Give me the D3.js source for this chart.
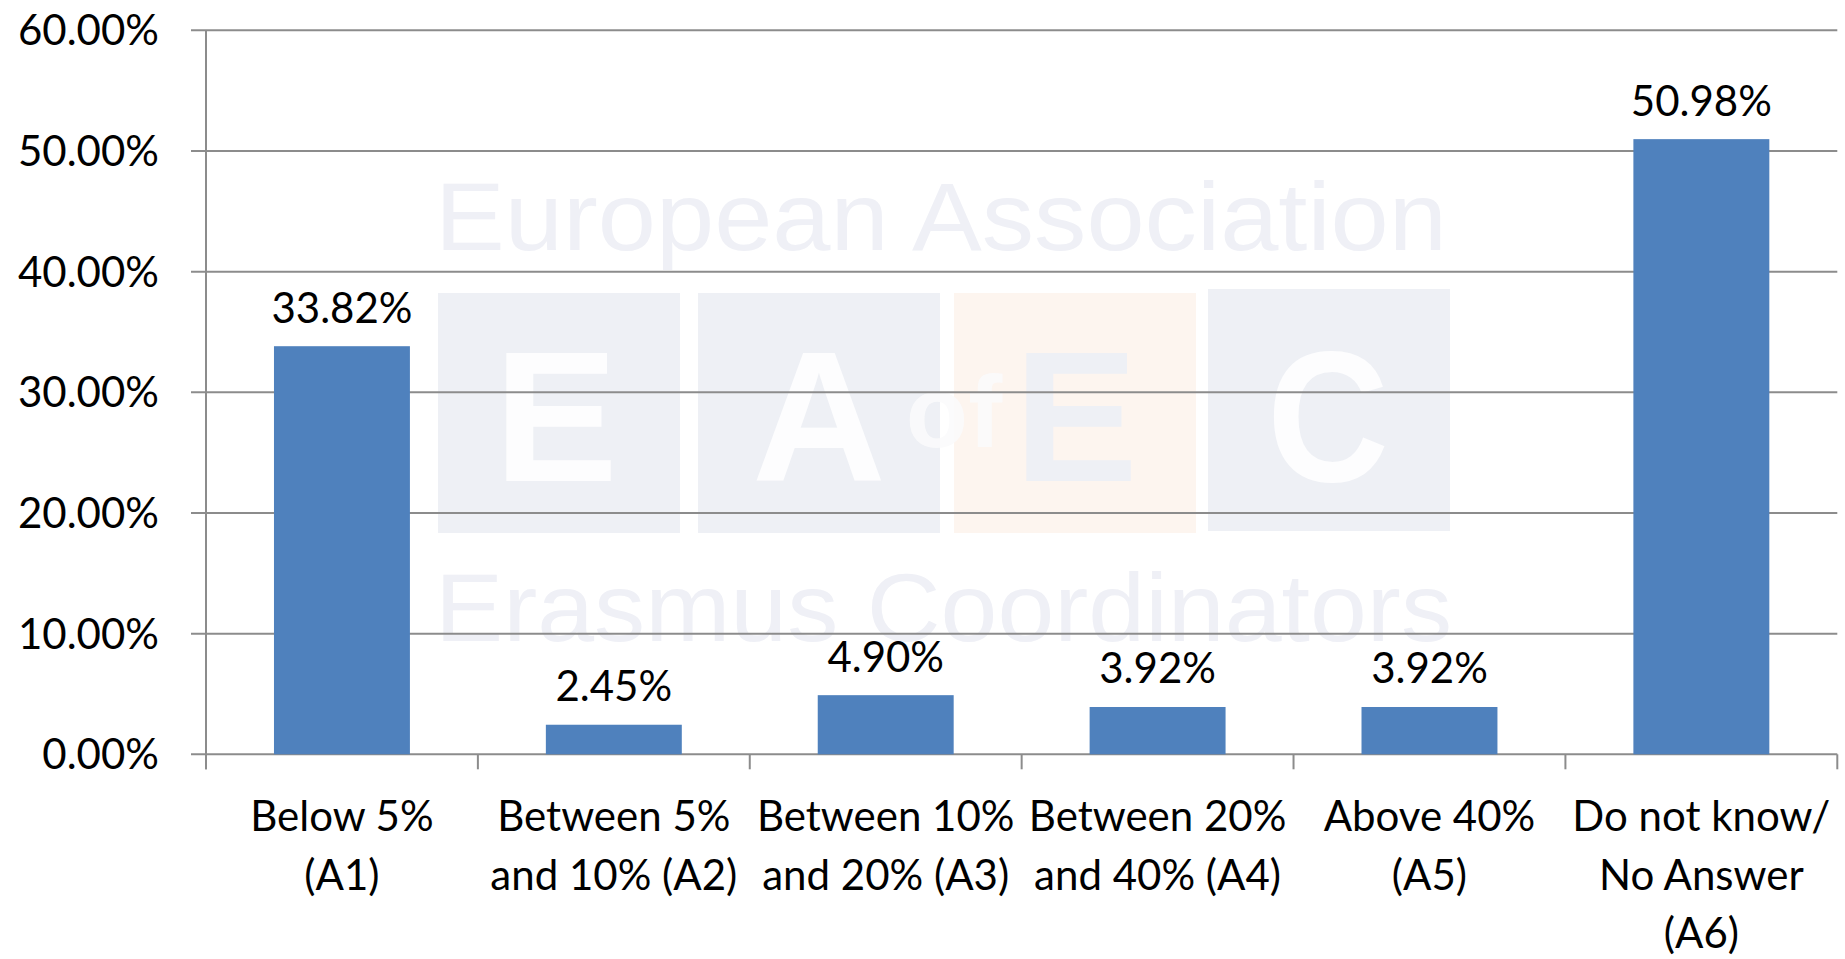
<!DOCTYPE html>
<html>
<head>
<meta charset="utf-8">
<script src="https://cdn.jsdelivr.net/npm/d3@7"></script>
<style>
  html, body { margin: 0; padding: 0; background: #ffffff; }
  svg { display: block; }
</style>
</head>
<body>
<svg id="chart" width="1845" height="959"></svg>
<script>
// ---- data ----
const categories = ["A1", "A2", "A3", "A4", "A5", "A6"];
const categoryLabels = [
  ["Below 5%", "(A1)"],
  ["Between 5%", "and 10% (A2)"],
  ["Between 10%", "and 20% (A3)"],
  ["Between 20%", "and 40% (A4)"],
  ["Above 40%", "(A5)"],
  ["Do not know/", "No Answer", "(A6)"]
];
const values = [33.82, 2.45, 4.90, 3.92, 3.92, 50.98];
const yTicks = [0, 10, 20, 30, 40, 50, 60];

// ---- layout ----
const plotLeft = 206, plotRight = 1837.3, plotTop = 30.3, plotBottom = 754.3;
const svg = d3.select("#chart");
const FONT = "Lato, 'Open Sans', sans-serif";
const FS = 42;

const y = d3.scaleLinear().domain([0, 60]).range([plotBottom, plotTop]);
const x = d3.scaleBand().domain(categories).range([plotLeft, plotRight]).paddingInner(0.5).paddingOuter(0.25);
const xb = d3.scaleBand().domain(categories).range([plotLeft, plotRight]).padding(0);

// ---- watermark ----
const wm = svg.append("g").attr("class", "watermark");
const boxBlue = "#eef0f5", boxPeach = "#fdf5ef";
const boxes = [
  {x: 438, y: 293, w: 242, h: 240, c: boxBlue},
  {x: 698, y: 293, w: 242, h: 240, c: boxBlue},
  {x: 954, y: 293, w: 242, h: 240, c: boxPeach},
  {x: 1208, y: 289, w: 242, h: 242, c: boxBlue}
];
wm.selectAll("rect").data(boxes).join("rect")
  .attr("x", d => d.x).attr("y", d => d.y).attr("width", d => d.w).attr("height", d => d.h)
  .attr("fill", d => d.c);
const letters = [
  {t: "E", x: 556, c: "#fdfdfe", len: 124},
  {t: "A", x: 819, c: "#fdfdfe", len: 134},
  {t: "E", x: 1076, c: boxBlue, len: 124},
  {t: "C", x: 1328, c: "#fdfdfe", len: 122}
];
wm.selectAll("text.big").data(letters).join("text").attr("class", "big")
  .attr("x", d => d.x).attr("y", 481)
  .attr("text-anchor", "middle")
  .attr("font-family", "'Liberation Sans', Arial, sans-serif")
  .attr("font-weight", "bold").attr("font-size", 186)
  .attr("textLength", d => d.len).attr("lengthAdjust", "spacingAndGlyphs")
  .attr("fill", d => d.c).text(d => d.t);
wm.append("text").attr("x", 954).attr("y", 447).attr("text-anchor", "middle")
  .attr("font-family", "'Liberation Sans', Arial, sans-serif")
  .attr("font-weight", "bold").attr("font-size", 102)
  .attr("fill", "#fbfbfc").attr("opacity", 0.9).text("of");
wm.append("text").attr("x", 435).attr("y", 250)
  .attr("font-family", "'Liberation Sans', Arial, sans-serif")
  .attr("font-size", 97).attr("textLength", 1012).attr("lengthAdjust", "spacingAndGlyphs")
  .attr("fill", "#eff0f6").text("European Association");
wm.append("text").attr("x", 435).attr("y", 641)
  .attr("font-family", "'Liberation Sans', Arial, sans-serif")
  .attr("font-size", 97).attr("textLength", 1017).attr("lengthAdjust", "spacingAndGlyphs")
  .attr("fill", "#eff0f6").text("Erasmus Coordinators");

// ---- gridlines ----
const gridColor = "#8c8c8c";
svg.append("g").selectAll("line").data(yTicks).join("line")
  .attr("x1", plotLeft - 15).attr("x2", plotRight)
  .attr("y1", d => y(d)).attr("y2", d => y(d))
  .attr("stroke", gridColor).attr("stroke-width", 2);

// y axis line
svg.append("line").attr("x1", plotLeft).attr("x2", plotLeft).attr("y1", plotTop).attr("y2", plotBottom + 15)
  .attr("stroke", gridColor).attr("stroke-width", 2);

// x axis tick marks at band boundaries
const boundaries = categories.map(c => xb(c)).concat([plotRight]);
svg.append("g").selectAll("line").data(boundaries).join("line")
  .attr("x1", d => d).attr("x2", d => d).attr("y1", plotBottom).attr("y2", plotBottom + 15)
  .attr("stroke", gridColor).attr("stroke-width", 2);

// y tick labels
svg.append("g").selectAll("text").data(yTicks).join("text")
  .attr("x", 159).attr("y", d => y(d) + 15)
  .attr("text-anchor", "end")
  .attr("font-family", FONT).attr("font-size", FS).attr("fill", "#000")
  .text(d => d3.format(".2f")(d) + "%");

// ---- bars ----
svg.append("g").selectAll("rect").data(values).join("rect")
  .attr("x", (d, i) => x(categories[i]))
  .attr("width", x.bandwidth())
  .attr("y", d => y(d))
  .attr("height", d => plotBottom - y(d))
  .attr("fill", "#4f81bd");

// data labels
svg.append("g").selectAll("text").data(values).join("text")
  .attr("x", (d, i) => x(categories[i]) + x.bandwidth() / 2)
  .attr("y", d => y(d) - 23.5)
  .attr("text-anchor", "middle")
  .attr("font-family", FONT).attr("font-size", FS).attr("fill", "#000")
  .text(d => d3.format(".2f")(d) + "%");

// category labels
const cl = svg.append("g").selectAll("text").data(categoryLabels).join("text")
  .attr("text-anchor", "middle")
  .attr("font-family", FONT).attr("font-size", FS).attr("fill", "#000");
cl.each(function(lines, i) {
  const cx = xb(categories[i]) + xb.bandwidth() / 2;
  d3.select(this).selectAll("tspan").data(lines).join("tspan")
    .attr("x", cx).attr("y", (d, j) => 831 + j * 58.5)
    .text(d => d);
});
</script>
</body>
</html>
